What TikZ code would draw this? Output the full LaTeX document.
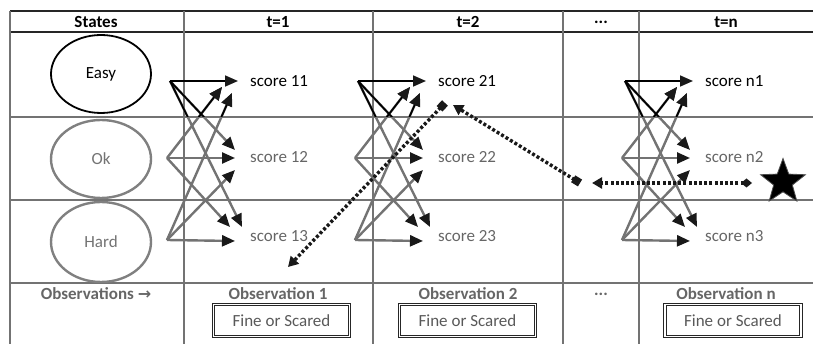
\documentclass[tikz,border=0pt]{standalone}
\usepackage{fontspec}
\setmainfont{Carlito}
\newfontfamily\djv{DejaVu Sans}
\usetikzlibrary{arrows.meta,shapes.geometric}
\tikzset{
  txt/.style={font=\fontsize{17}{19}\selectfont, inner sep=0pt},
  hdr/.style={txt, font=\fontsize{17}{19}\selectfont\bfseries},
  obs/.style={hdr, text=black!60},
  gridblack/.style={line width=1.3pt, draw=black!85},
  gridgray/.style={line width=1.3pt, draw=black!55},
  tip/.style={-{Triangle[length=13pt,width=11pt,color=black!90,fill=black!90]}},
  blackarrow/.style={tip, line width=1.7pt, draw=black},
  grayarrow/.style={tip, line width=2.4pt, draw=black!55},
  trail/.style={line width=3.4pt, draw=black!90, dash pattern=on 3pt off 2.2pt},
  stateell/.style={ellipse, minimum width=100pt, minimum height=78pt, txt},
  obsbox/.style={txt, draw=black!85, line width=1pt, double=white, double distance=1.4pt,
                 minimum width=136pt, minimum height=32pt, text=black!65}
}
\begin{document}
\begin{tikzpicture}[x=1pt,y=-1pt]
\useasboundingbox (0,0) rectangle (813,344);
% grid
\draw[gridblack] (10,11) -- (813,11);
\draw[gridblack] (10,32) -- (813,32);
\draw[gridgray] (10,117) -- (813,117);
\draw[gridgray] (10,200) -- (813,200);
\draw[gridgray] (10,283) -- (813,283);
\foreach \x in {10,184,373,563,639} \draw[gridgray] (\x,11) -- (\x,344);
% header
\node[hdr] (hs) at (96,22) {States};
\node[hdr] (h1) at (278,22) {t=1};
\node[hdr] (h2) at (468,22) {t=2};
\node[hdr] (hd) at (601,22) {...};
\node[hdr] (hn) at (726,22) {t=n};
% states
\node[stateell, draw=black, line width=1.8pt] (easy) at (101,74) {Easy};
\node[stateell, draw=black!50, line width=2.4pt, text=black!55] (ok) at (101,159) {Ok};
\node[stateell, draw=black!50, line width=2.4pt, text=black!55, minimum height=80pt] (hard) at (101,242) {Hard};
% clusters
\foreach \dx/\c in {0/1, 188/2, 455/n} {
  \coordinate (E\c) at (170+\dx,81);
  \coordinate (O\c) at (167+\dx,158);
  \coordinate (H\c) at (167+\dx,240);
  \coordinate (eA\c) at (238+\dx,81);
  \coordinate (eB\c) at (235+\dx,150);
  \coordinate (eC\c) at (242+\dx,227);
  \coordinate (oA\c) at (222+\dx,87);
  \coordinate (oB\c) at (235+\dx,158);
  \coordinate (oC\c) at (230+\dx,227);
  \coordinate (hA\c) at (232+\dx,93);
  \coordinate (hB\c) at (235+\dx,170);
  \coordinate (hC\c) at (235+\dx,241);
  \foreach \s/\t in {O/oA, O/oB, O/oC, H/hA, H/hB, H/hC, E/eB, E/eC}
    \draw[grayarrow] (\s\c) -- (\t\c);
  \node[txt, anchor=west] (s\c1) at (250+\dx,81) {score \c1};
  \node[txt, anchor=west, text=black!60] (s\c2) at (250+\dx,157) {score \c2};
  \node[txt, anchor=west, text=black!60] (s\c3) at (250+\dx,236) {score \c3};
}
% upper part of the arrows is plain black
\begin{scope}
  \clip (150,34) rectangle (813,116.5);
  \foreach \c in {1,2,n} {
    \foreach \s/\t in {O/oA, H/hA, E/eB, E/eC}
      \draw[blackarrow] (\s\c) -- (\t\c);
  }
\end{scope}
\foreach \c in {1,2,n} \draw[blackarrow] (E\c) -- (eA\c);
% observation row
\node[obs] (o0) at (96,294) {Observations {\djv\bfseries\fontsize{16}{17}\selectfont →}};
\node[obs] (o1) at (278,294) {Observation 1};
\node[obs] (o2) at (468,294) {Observation 2};
\node[obs] (od) at (601,294) {...};
\node[obs] (on) at (726,294) {Observation n};
\node[obsbox] (b1) at (281.5,320.5) {Fine or Scared};
\node[obsbox] (b2) at (467.5,320.5) {Fine or Scared};
\node[obsbox] (bn) at (733,320.5) {Fine or Scared};
% trail
\coordinate (p1) at (445,103);
\coordinate (p0) at (288,267);
\coordinate (p2) at (580,183);
\coordinate (p1b) at (453,105);
\coordinate (p3) at (752,183);
\coordinate (p2b) at (592,183);
\draw[trail, {Square[length=8pt,width=8pt]}-{Triangle[length=10pt,width=11pt]}] (p1) -- (p0);
\draw[trail, {Square[length=8pt,width=8pt]}-{Triangle[length=10pt,width=11pt]}] (p2) -- (p1b);
\draw[trail, {Diamond[length=11pt,width=9pt]}-{Triangle[length=10pt,width=11pt]}] (p3) -- (p2b);
\node[star, star points=5, star point ratio=2.4, minimum size=47pt, inner sep=0pt, fill=black, draw=black!70, line width=0.8pt] (goal) at (783,182) {};
\end{tikzpicture}
\end{document}
